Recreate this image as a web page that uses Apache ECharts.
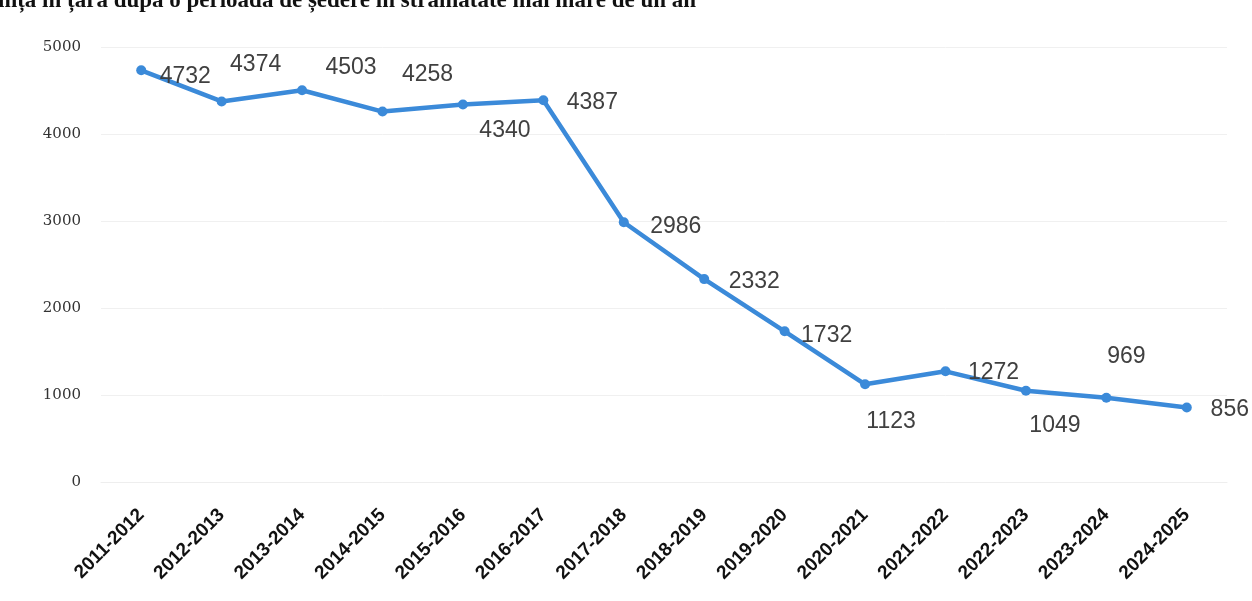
<!DOCTYPE html>
<html>
<head>
<meta charset="utf-8">
<script src="https://cdn.jsdelivr.net/npm/echarts@6/dist/echarts.min.js"></script>
<style>
html,body{margin:0;padding:0;background:#fff;}
#c{width:1252px;height:601px;}
</style>
</head>
<body>
<div id="c"></div>
<script>
const categories = ['2011-2012','2012-2013','2013-2014','2014-2015','2015-2016','2016-2017','2017-2018','2018-2019','2019-2020','2020-2021','2021-2022','2022-2023','2023-2024','2024-2025'];
const values = [4732, 4374, 4503, 4258, 4340, 4387, 2986, 2332, 1732, 1123, 1272, 1049, 969, 856];
const yTicks = [0, 1000, 2000, 3000, 4000, 5000];
const headerText = 'ință în țară după o perioadă de ședere în străinătate mai mare de un an';
// label offsets (style only, relative to each point)
const labelOffsets = [[44,6],[34,-37],[49,-23],[45,-37],[42,26],[49,2],[52,4],[50,3],[42,4],[26,37],[48,1],[29,35],[20,-41],[43,2]];

const chart = echarts.init(document.getElementById('c'));
chart.setOption({
  animation: false,
  backgroundColor: '#fff',
  graphic: [{
    type: 'text', left: -2, top: -10,
    style: { text: headerText, font: 'bold 23px "Liberation Serif"', fill: '#111' }
  }],
  grid: { left: 101, right: 25, top: 47, bottom: 119, containLabel: false },
  xAxis: {
    type: 'category', data: categories, boundaryGap: true,
    axisLine: { show: true, lineStyle: { color: '#eeeeee' } },
    axisTick: { show: false },
    axisLabel: { interval: 0, rotate: 45, margin: 30, color: '#111', fontFamily: 'Liberation Sans', fontWeight: 'bold', fontSize: 19 }
  },
  yAxis: {
    type: 'value', min: yTicks[0], max: yTicks[yTicks.length-1], interval: 1000,
    axisLine: { show: false }, axisTick: { show: false },
    splitLine: { lineStyle: { color: '#f0f0f0' } },
    axisLabel: { margin: 20, color: '#333', fontFamily: 'DejaVu Serif', fontSize: 15, formatter: v => String(v) }
  },
  series: [{
    type: 'line',
    data: values.map((v, i) => ({
      value: v,
      label: { show: true, position: 'inside', offset: labelOffsets[i] }
    })),
    symbol: 'circle', symbolSize: 10,
    lineStyle: { color: '#3b8ad9', width: 4.5 },
    itemStyle: { color: '#3b8ad9' },
    label: { color: '#404040', fontFamily: 'Liberation Sans', fontSize: 23 }
  }]
});
</script>
</body>
</html>
